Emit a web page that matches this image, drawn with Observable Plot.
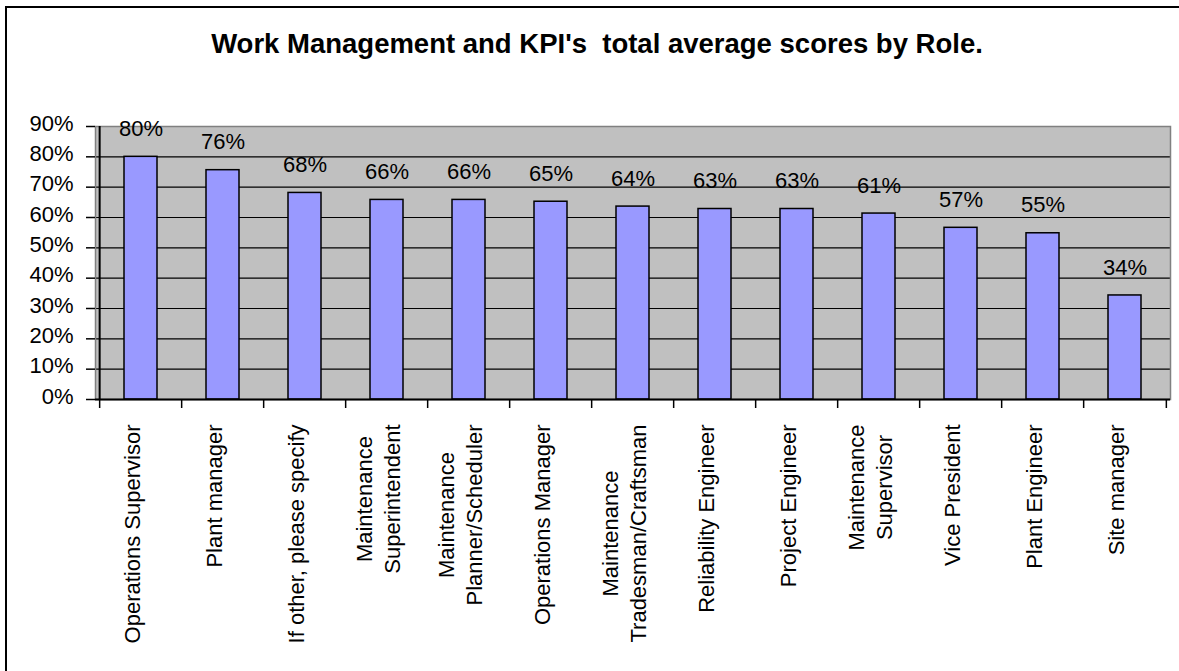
<!DOCTYPE html>
<html><head><meta charset="utf-8">
<script src="https://cdn.jsdelivr.net/npm/d3@7"></script>
<script src="https://cdn.jsdelivr.net/npm/@observablehq/plot@0.6"></script>
<style>
html,body{margin:0;padding:0;background:#fff;overflow:hidden;}
#wrap{position:relative;width:1179px;height:671px;}
#title{height:70px;padding-top:30px;width:1194px;text-align:center;font:bold 27.5px "Liberation Sans",Arial,sans-serif;line-height:27px;white-space:pre;}
#chart svg{display:block;}
#border{position:absolute;left:5px;top:6px;width:1300px;height:800px;border-left:2px solid #000;border-top:2px solid #000;pointer-events:none;}
</style></head><body>
<div id="wrap"><div id="title">Work Management and KPI's  total average scores by Role.</div><div id="chart"></div><div id="border"></div></div>
<script>
const roles = ["Operations Supervisor","Plant manager","If other, please specify","Maintenance Superintendent","Maintenance Planner/Scheduler","Operations Manager","Maintenance Tradesman/Craftsman","Reliability Engineer","Project Engineer","Maintenance Supervisor","Vice President","Plant Engineer","Site manager"];
const roleLabels = ["Operations Supervisor","Plant manager","If other, please specify","Maintenance\nSuperintendent","Maintenance\nPlanner/Scheduler","Operations Manager","Maintenance\nTradesman/Craftsman","Reliability Engineer","Project Engineer","Maintenance\nSupervisor","Vice President","Plant Engineer","Site manager"];
const scores = [0.80,0.756,0.681,0.658,0.658,0.652,0.636,0.628,0.628,0.613,0.566,0.548,0.343];
const yTicks = [0,0.1,0.2,0.3,0.4,0.5,0.6,0.7,0.8,0.9];

const data = roles.map((r,i)=>({role:r, score:scores[i]}));
const labelOf = new Map(roles.map((r,i)=>[r, roleLabels[i]]));
const W=1179, H=571, mL=95, mR=9, mT=26, mB=272;
const step=(W-mL-mR)/roles.length;
const pct = d3.format(".0%");

const chart = Plot.plot({
  width: W, height: H, marginLeft: mL, marginRight: mR, marginTop: mT, marginBottom: mB,
  style: {fontFamily: '"Liberation Sans", Arial, sans-serif', fontSize: "22px", color: "#000", background: "transparent", overflow: "visible"},
  x: {domain: roles, paddingInner: 0.6, paddingOuter: 0.3, align: 0.5},
  y: {domain: [0, 0.9]},
  marks: [
    Plot.frame({fill: "#c0c0c0"}),
    Plot.gridY(yTicks, {stroke: "#000", strokeOpacity: 1, strokeWidth: 1.2}),
    Plot.frame({stroke: "#808080", strokeWidth: 1.5}),
    Plot.barY(data, {x: "role", y: "score", fill: "#9999ff", stroke: "#000", strokeWidth: 1.5}),
    Plot.ruleY([0], {stroke: "#000", strokeWidth: 2}),
    Plot.ruleX([roles[0]], {dx: -step/2, stroke: "#000", strokeWidth: 2}),
    Plot.axisY(yTicks, {tickFormat: pct, tickSize: 9, tickPadding: 13, strokeWidth: 1.5, fontSize: 22, label: null, text: null}),
    Plot.axisY(yTicks, {tickFormat: pct, tickSize: 0, tickPadding: 22, dy: -3, fontSize: 22, label: null}),
    Plot.axisX(roles, {tickSize: 9, dx: -step/2, tickFormat: () => "", strokeWidth: 1.5, label: null}),
    Plot.axisX([roles[roles.length-1]], {tickSize: 9, dx: step/2, tickFormat: () => "", strokeWidth: 1.5, label: null}),
    Plot.axisX(roles, {tickSize: 0, tickPadding: 25, tickRotate: -90, dx: -10, tickFormat: d => labelOf.get(d), lineWidth: Infinity, lineHeight: 1.25, fontSize: 22, label: null}),
    Plot.text(data, {x: "role", y: "score", text: d => pct(d.score), dy: -28, fontSize: 22})
  ]
});
document.getElementById("chart").appendChild(chart);

// Centre the lines of two-line category labels on each other, as the reference does
chart.querySelectorAll("text").forEach(t => {
  const spans = t.querySelectorAll("tspan");
  if (spans.length < 2) return;
  const maxLen = Math.max(...Array.from(spans, s => s.getComputedTextLength()));
  t.setAttribute("text-anchor", "middle");
  spans.forEach(s => s.setAttribute("x", -maxLen / 2));
});
</script>
</body></html>
